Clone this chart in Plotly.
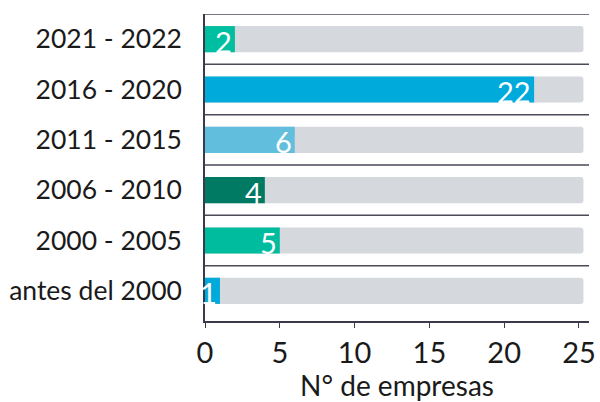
import plotly.graph_objects as go

categories = ["antes del 2000", "2000 - 2005", "2006 - 2010", "2011 - 2015", "2016 - 2020", "2021 - 2022"]
values = [1, 5, 4, 6, 22, 2]
track_value = 25.3
colors = ["#00AADB", "#00BC9E", "#007A63", "#62BEDD", "#00AADB", "#00BFA0"]
x_ticks = [0, 5, 10, 15, 20, 25]

FONT = "Lato"
fig = go.Figure()
fig.add_trace(go.Bar(
    y=categories, x=[track_value] * len(categories), orientation="h",
    marker=dict(color="#D5D8DD", cornerradius=3, line=dict(width=0)),
    width=0.52, hoverinfo="skip", showlegend=False,
))
fig.add_trace(go.Bar(
    y=categories, x=values, orientation="h",
    marker=dict(color=colors, cornerradius=3, line=dict(width=0)),
    width=0.52, showlegend=False,
))

for c, v in zip(categories, values):
    fig.add_annotation(x=v, y=c, xref="x", yref="y", text=str(v), showarrow=False,
                       xanchor="right", yanchor="middle", xshift=-1, yshift=-2,
                       font=dict(family=FONT, size=29, color="white"))

n = len(categories)
for i in range(n):
    yb = i + 0.5
    fig.add_shape(type="line", xref="paper", yref="y", x0=0, x1=1, y0=yb, y1=yb,
                  line=dict(color="#4a4a58", width=1.5), layer="below")

fig.update_layout(
    width=600, height=402,
    margin=dict(l=205, r=11, t=14, b=81),
    barmode="overlay",
    plot_bgcolor="white", paper_bgcolor="white",
    font=dict(family=FONT, color="#1a1a1a"),
    xaxis=dict(range=[0, 25.67], tickvals=x_ticks, ticktext=[str(t) for t in x_ticks],
               automargin=False,
               showgrid=False, zeroline=False, showline=True, linecolor="#3a3a4a", linewidth=1.5,
               ticks="outside", ticklen=5, tickcolor="#3a3a4a", tickwidth=1.2,
               tickfont=dict(family=FONT, size=29, color="#1a1a1a"),
               title=dict(text="N° de empresas", font=dict(family=FONT, size=28, color="#1a1a1a"), standoff=5)),
    yaxis=dict(categoryorder="array", categoryarray=categories, range=[-0.6, 5.5],
               automargin=False,
               showgrid=False, zeroline=False, showline=True, linecolor="#3a3a4a", linewidth=1.5,
               ticks="", ticklabelstandoff=16,
               tickfont=dict(family=FONT, size=26.5, color="#1a1a1a")),
)

# remove the browser's default page margin so the figure fills the window exactly
fig.write_html("out.html", config={"displayModeBar": False},
               post_script="document.body.style.margin='0';document.body.style.overflow='hidden';")
